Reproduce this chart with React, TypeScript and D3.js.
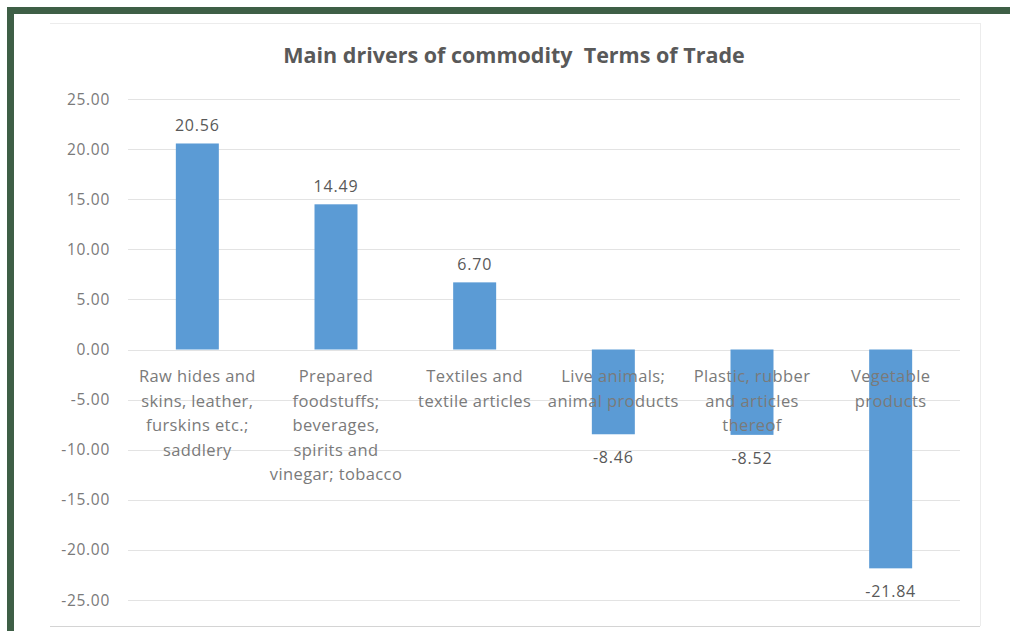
import React from "react";
import * as d3 from "d3";

const categories: string[][] = [
  ["Raw hides and", "skins, leather,", "furskins etc.;", "saddlery"],
  ["Prepared", "foodstuffs;", "beverages,", "spirits and", "vinegar; tobacco"],
  ["Textiles and", "textile articles"],
  ["Live animals;", "animal products"],
  ["Plastic, rubber", "and articles", "thereof"],
  ["Vegetable", "products"],
];
const values: number[] = [20.56, 14.49, 6.7, -8.46, -8.52, -21.84];
const yTicks: number[] = [25, 20, 15, 10, 5, 0, -5, -10, -15, -20, -25];
const title = "Main drivers of commodity\u00a0 Terms of Trade";

const W = 1010;
const H = 631;
const FONT = "'Open Sans', Lato, sans-serif";

const fmt = (v: number) => d3.format(".2f")(v).replace("\u2212", "-");

export default function App() {
  const plotLeft = 128;
  const plotRight = 960;
  const y = d3.scaleLinear().domain([-25, 25]).range([600, 99]);
  const x = d3
    .scaleBand<number>()
    .domain(values.map((_, i) => i))
    .range([plotLeft, plotRight])
    .paddingInner(0.69)
    .paddingOuter(0.345);
  const green = "#3E5F46";
  return (
    <svg
      width={W}
      height={H}
      style={{ position: "absolute", left: 0, top: 0, background: "#fff" }}
      fontFamily={FONT}
    >
      <rect x={0} y={0} width={W} height={H} fill="#fff" />
      {/* chart frame */}
      <line x1={50} x2={980} y1={23.5} y2={23.5} stroke="#ececec" />
      <line x1={980.5} x2={980.5} y1={23} y2={626} stroke="#ececec" />
      <line x1={50} x2={980} y1={626.5} y2={626.5} stroke="#d4d4d4" />
      {/* title */}
      <text
        x={514}
        y={63}
        textAnchor="middle"
        fontSize={21.5}
        fontWeight={700}
        fill="#595959"
      >
        {title}
      </text>
      {/* gridlines */}
      {yTicks.map((t) => (
        <g key={t}>
          <line
            x1={plotLeft}
            x2={plotRight}
            y1={Math.round(y(t)) + 0.5}
            y2={Math.round(y(t)) + 0.5}
            stroke="#e3e3e3"
          />
          <text
            x={110}
            y={y(t) + 5.5}
            textAnchor="end"
            fontSize={15.5}
            letterSpacing={0.7}
            fill="#7a7a7a"
          >
            {fmt(t)}
          </text>
        </g>
      ))}
      {/* bars */}
      {values.map((v, i) => (
        <rect
          key={i}
          x={x(i)}
          width={x.bandwidth()}
          y={Math.min(y(v), y(0))}
          height={Math.abs(y(v) - y(0))}
          fill="#5B9BD5"
        />
      ))}
      {/* value labels */}
      {values.map((v, i) => (
        <text
          key={i}
          x={(x(i) as number) + x.bandwidth() / 2}
          y={v >= 0 ? y(v) - 12 : y(v) + 29}
          textAnchor="middle"
          fontSize={16}
          letterSpacing={0.8}
          fill="#595959"
        >
          {fmt(v)}
        </text>
      ))}
      {/* category labels */}
      {categories.map((lines, i) => (
        <text
          key={i}
          x={(x(i) as number) + x.bandwidth() / 2}
          textAnchor="middle"
          fontSize={16.5}
          letterSpacing={0.4}
          fill="#7a7a7a"
        >
          {lines.map((l, j) => (
            <tspan key={j} x={(x(i) as number) + x.bandwidth() / 2} y={382 + j * 24.5}>
              {l}
            </tspan>
          ))}
        </text>
      ))}
      {/* green border */}
      <rect x={7} y={7} width={W - 7} height={7} fill={green} />
      <rect x={7} y={7} width={7} height={H - 7} fill={green} />
    </svg>
  );
}
